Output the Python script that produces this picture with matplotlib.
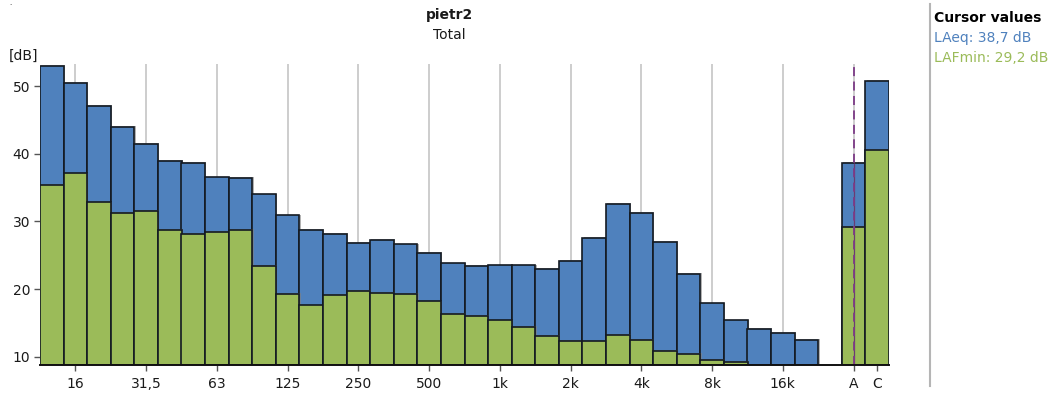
import numpy as np
import matplotlib
matplotlib.use("Agg")
import matplotlib.pyplot as plt
import matplotlib.patheffects as pe
from matplotlib.lines import Line2D

plt.rcParams['font.family'] = ['DejaVu Sans']

# 1/3-octave bands 12.5 Hz .. 20 kHz, followed by the A and C totals
bands = ["12.5", "16", "20", "25", "31.5", "40", "50", "63", "80", "100",
         "125", "160", "200", "250", "315", "400", "500", "630", "800", "1k",
         "1.25k", "1.6k", "2k", "2.5k", "3.15k", "4k", "5k", "6.3k", "8k", "10k",
         "12.5k", "16k", "20k"]
laeq = [53.0, 50.5, 47.1, 44.0, 41.5, 38.9, 38.7, 36.5, 36.4, 34.0,
        30.9, 28.7, 28.1, 26.8, 27.3, 26.6, 25.4, 23.8, 23.4, 23.5,
        23.5, 23.0, 24.2, 27.6, 32.6, 31.3, 27.0, 22.3, 17.9, 15.4,
        14.1, 13.5, 12.5]
lafmin = [35.4, 37.1, 32.8, 31.3, 31.6, 28.7, 28.2, 28.5, 28.8, 23.4,
          19.3, 17.6, 19.1, 19.8, 19.5, 19.3, 18.2, 16.4, 16.1, 15.4,
          14.4, 13.1, 12.4, 12.3, 13.3, 12.5, 10.9, 10.4, 9.6, 9.3,
          np.nan, np.nan, np.nan]
total_labels = ["A", "C"]
total_laeq = [38.7, 50.8]
total_lafmin = [29.2, 40.6]

tick_bands = ["16", "31.5", "63", "125", "250", "500", "1k", "2k", "4k", "8k", "16k"]
tick_text = ["16", "31,5", "63", "125", "250", "500", "1k", "2k", "4k", "8k", "16k"]
cursor_label = "A"

BLUE = "#4f81bd"
GREEN = "#9bbb59"
EDGE = "#141a22"
GRID = "#c9c9c9"
CURSOR = "#7d3b86"
TEXT = "#1a1a1a"

# positions: bands, one empty slot, then the totals
x_bands = np.arange(len(bands))
x_totals = len(bands) + 1 + np.arange(len(total_labels))
xs = np.concatenate([x_bands, x_totals])
all_laeq = np.array(laeq + total_laeq, dtype=float)
all_lafmin = np.array(lafmin + total_lafmin, dtype=float)
pos = {b: i for i, b in enumerate(bands)}
pos.update({t: x_totals[i] for i, t in enumerate(total_labels)})

fig = plt.figure(figsize=(10.59, 4.05), dpi=100)
ax = fig.add_axes([40 / 1059, 1 - 364.5 / 405, 849 / 1059, (364.5 - 64) / 405])

ymin, ymax = 8.88, 53.25
ax.set_xlim(-0.5, xs[-1] + 0.5)
ax.set_ylim(ymin, ymax)

# frequency gridlines
grid_x = [pos[b] for b in tick_bands] + [pos[cursor_label]]
for gx in grid_x:
    ax.axvline(gx, color=GRID, lw=1.3, zorder=0)

shadow = [pe.SimplePatchShadow(offset=(0.9, 0.6), shadow_rgbFace="#808080", alpha=0.6), pe.Normal()]
bl = ax.bar(xs, all_laeq - ymin, bottom=ymin, width=1.0, color=BLUE,
            edgecolor=EDGE, linewidth=1.2, zorder=2)
gr = ax.bar(xs, all_lafmin - ymin, bottom=ymin, width=1.0, color=GREEN,
            edgecolor=EDGE, linewidth=1.2, zorder=3)
for p in list(bl) + list(gr):
    p.set_path_effects(shadow)

# cursor at the A total
cx = pos[cursor_label]
a_val = total_laeq[total_labels.index(cursor_label)]
ax.plot([cx, cx], [ymin, a_val], color="#6a3c70", lw=0.9, zorder=4, solid_capstyle="butt")
ax.plot([cx, cx], [ymin, ymax], color=CURSOR, lw=1.3, linestyle=(0, (5, 3)), zorder=5)

for s in ["top", "right", "left"]:
    ax.spines[s].set_visible(False)
ax.spines["bottom"].set_color("#111111")
ax.spines["bottom"].set_linewidth(1.4)
ax.spines["bottom"].set_zorder(6)

ax.set_yticks([10, 20, 30, 40, 50])
ax.set_yticklabels(["10", "20", "30", "40", "50"])
xt = [pos[b] for b in tick_bands] + list(x_totals)
ax.set_xticks(xt)
ax.set_xticklabels(tick_text + total_labels)
ax.tick_params(axis="both", direction="out", length=4, width=1.0, color="#555555",
               labelsize=10, labelcolor=TEXT, pad=3)
ax.tick_params(axis="x", pad=5)

fig.text(24 / 1059, 1 - 56 / 405, "[dB]", ha="center", va="center", fontsize=10, color=TEXT)
fig.text(449 / 1059, 1 - 15 / 405, "pietr2", ha="center", va="center", fontsize=10,
         fontweight="bold", color=TEXT)
fig.text(449 / 1059, 1 - 35 / 405, "Total", ha="center", va="center", fontsize=10, color=TEXT)
fig.text(10 / 1059, 1 - 3 / 405, ".", ha="center", va="center", fontsize=5, color=TEXT)

# cursor value panel
fig.add_artist(Line2D([930 / 1059, 930 / 1059], [1 - 4 / 405, 1 - 386 / 405],
                      transform=fig.transFigure, color="#b5b5b5", lw=1.5))
fig.text(934 / 1059, 1 - 18 / 405, "Cursor values", ha="left", va="center", fontsize=10,
         fontweight="bold", color="#000000")
fig.text(934 / 1059, 1 - 38 / 405,
         "LAeq: " + f"{total_laeq[0]:.1f}".replace(".", ",") + " dB",
         ha="left", va="center", fontsize=10, color=BLUE)
fig.text(934 / 1059, 1 - 58 / 405,
         "LAFmin: " + f"{total_lafmin[0]:.1f}".replace(".", ",") + " dB",
         ha="left", va="center", fontsize=10, color=GREEN)

fig.savefig("out.png", dpi=100, facecolor="white")
